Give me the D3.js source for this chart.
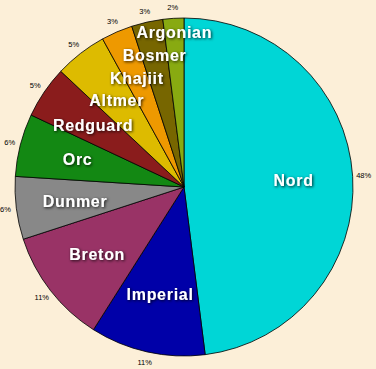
<!DOCTYPE html>
<html>
<head>
<meta charset="utf-8">
<script src="https://d3js.org/d3.v7.min.js"></script>
<style>
  html, body { margin: 0; padding: 0; background: #fcefd8; }
  svg { display: block; }
</style>
</head>
<body>
<div id="vis"></div>
<script>
// races and their share (%), clockwise from 12 o'clock
var races = ['Nord', 'Imperial', 'Breton', 'Dunmer', 'Orc', 'Redguard', 'Altmer', 'Khajiit', 'Bosmer', 'Argonian'];
var shares = [48, 11, 11, 6, 6, 5, 5, 3, 3, 2];
var colors = ['#00d6d6', '#0000a8', '#993366', '#888888', '#138813', '#8a1c1c', '#ddbb00', '#ee9900', '#776600', '#88aa11'];

var width = 376;
var height = 369;
var center = { x: 184, y: 187 };
var radius = 169;

var data = races.map(function (d, i) {
  return { name: d, value: shares[i], color: colors[i] };
});

var svg = d3.select('#vis')
  .append('svg')
  .attr('width', width)
  .attr('height', height);

var defs = svg.append('defs');
var shadow = defs.append('filter')
  .attr('id', 'shadow')
  .attr('x', '-20%').attr('y', '-40%')
  .attr('width', '140%').attr('height', '180%');
shadow.append('feDropShadow')
  .attr('dx', 1).attr('dy', 1)
  .attr('stdDeviation', 1.6)
  .attr('flood-color', '#000')
  .attr('flood-opacity', 0.85);

var pie = d3.pie()
  .sort(null)
  .value(function (d) { return d.value; });

var arc = d3.arc()
  .innerRadius(0)
  .outerRadius(radius);

var arcs = pie(data);

var g = svg.append('g')
  .attr('transform', 'translate(' + center.x + ',' + center.y + ')');

g.selectAll('.slice')
  .data(arcs)
  .enter().append('path')
  .attr('class', 'slice')
  .attr('d', arc)
  .attr('fill', function (d) { return d.data.color; })
  .attr('stroke', '#000')
  .attr('stroke-width', 0.8);

// percent labels outside the rim
var pctArc = d3.arc().innerRadius(radius + 11).outerRadius(radius + 11);

g.selectAll('.pct')
  .data(arcs)
  .enter().append('text')
  .attr('class', 'pct')
  .attr('x', function (d) { return pctArc.centroid(d)[0]; })
  .attr('y', function (d) { return pctArc.centroid(d)[1]; })
  .attr('text-anchor', 'middle')
  .attr('dy', '0.35em')
  .style('font-family', '"Liberation Sans", Arial, sans-serif')
  .style('font-size', '7.5px')
  .style('fill', '#000')
  .text(function (d) { return d.data.value + '%'; });

// name labels inside, pushed outwards while they hit an earlier label
var labelH = 22;
function midAngle(d) { return (d.startAngle + d.endAngle) / 2; }
function posAt(d, r) {
  var a = midAngle(d);
  return { x: Math.sin(a) * r, y: -Math.cos(a) * r };
}

var labels = arcs.map(function (d) {
  var w = d.data.name.length * 9 + 6;
  return { d: d, r: radius * 0.65, w: w };
});

function hits(a, b) {
  return Math.abs(a.p.y - b.p.y) < labelH && Math.abs(a.p.x - b.p.x) < (a.w + b.w) / 2;
}

labels.forEach(function (l, i) {
  l.p = posAt(l.d, l.r);
  var earlier = labels.slice(0, i);
  while (earlier.some(function (e) { return hits(l, e); }) && l.r < radius) {
    l.r += 1;
    l.p = posAt(l.d, l.r);
  }
});

g.selectAll('.name')
  .data(labels)
  .enter().append('text')
  .attr('class', 'name')
  .attr('x', function (l) { return l.p.x; })
  .attr('y', function (l) { return l.p.y; })
  .attr('text-anchor', 'middle')
  .attr('dy', '0.36em')
  .attr('filter', 'url(#shadow)')
  .style('font-family', '"Liberation Sans", Arial, sans-serif')
  .style('font-weight', 'bold')
  .style('font-size', '16px')
  .style('letter-spacing', '0.7px')
  .style('fill', '#fff')
  .text(function (l) { return l.d.data.name; });
</script>
</body>
</html>
